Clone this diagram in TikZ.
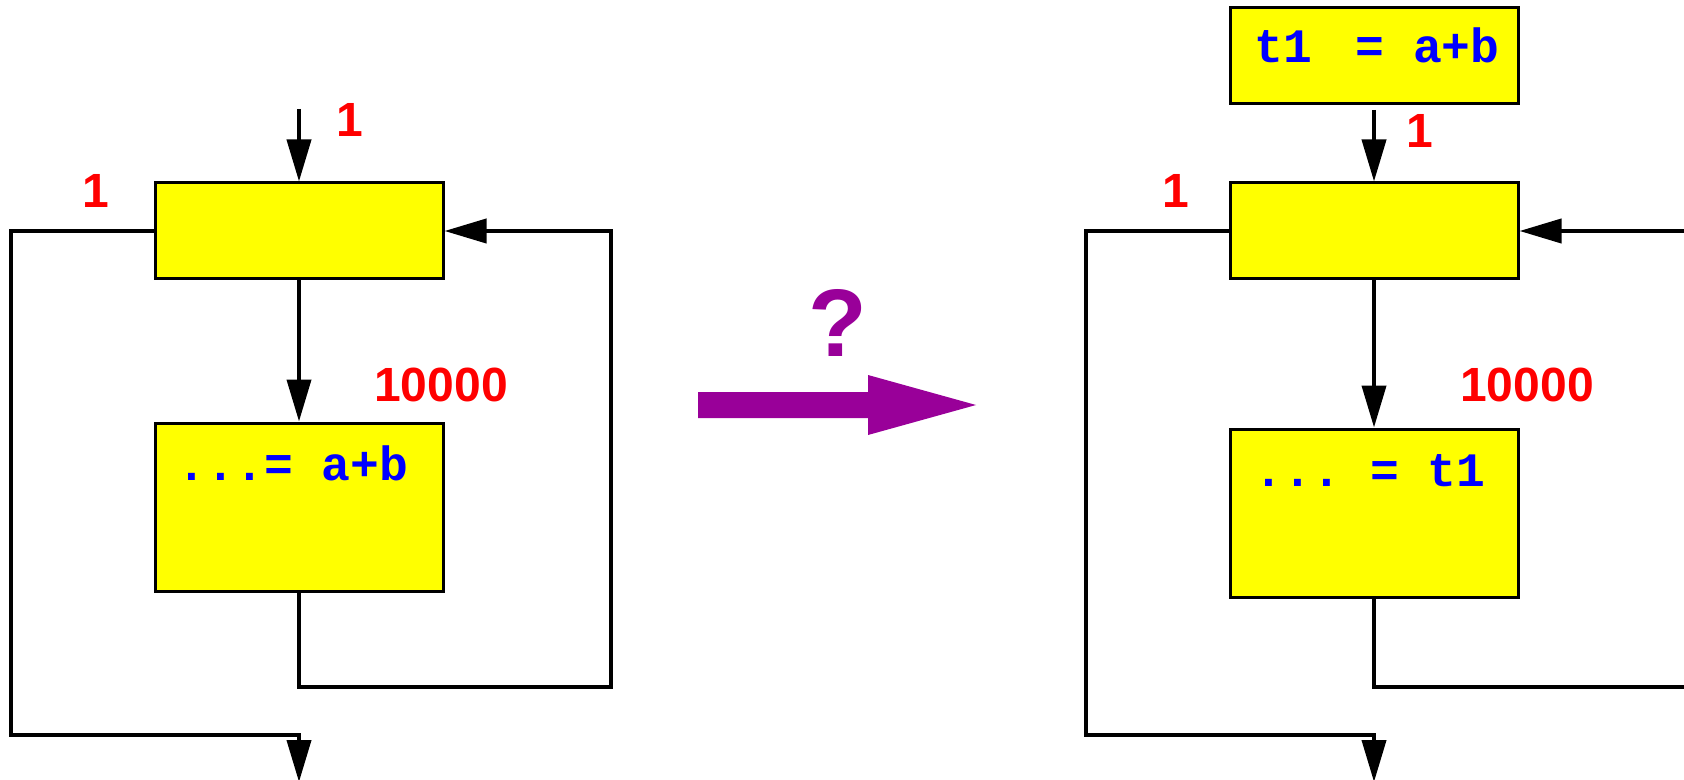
\documentclass[tikz,border=0pt]{standalone}
\usepackage{fontspec}
\setmainfont{Liberation Sans}
\setmonofont{Liberation Mono}
\usetikzlibrary{arrows.meta}
\definecolor{boxyellow}{RGB}{255,255,0}
\definecolor{codeblue}{RGB}{0,0,255}
\definecolor{countred}{RGB}{255,0,0}
\definecolor{hoistpurple}{RGB}{153,0,153}

\begin{document}
\frenchspacing
\begin{tikzpicture}[x=0.5pt,y=-0.5pt,
  block/.style={draw=black, line width=1.5pt, fill=boxyellow, inner sep=0pt, minimum width=144pt},
  shortblock/.style={block, minimum height=48pt},
  tallblock/.style={block, minimum height=84pt},
  code/.style={inner sep=0pt, anchor=base, text=codeblue,
    font=\ttfamily\bfseries\fontsize{24}{28}\selectfont},
  count/.style={inner sep=0pt, anchor=base, text=countred,
    font=\bfseries\fontsize{24}{28}\selectfont},
  flow/.style={line width=2pt, line join=miter},
  tip/.style={-{Triangle[width=12pt,length=21pt]}},
]
\useasboundingbox (0,0) rectangle (1684,780);
\clip (0,0) rectangle (1684,780);

% ---------- loop before the transformation ----------
\node[shortblock] (lhead) at (299,231) {};
\node[tallblock]  (lbody) at (299,507) {};
\node[code] (lbodytext) at (293,480) {...= a+b};

\coordinate (lin)    at (299,109);
\coordinate (lloop)  at (611,687);
\coordinate (lskip)  at (11,735);
\coordinate (lexit)  at (299,782);

\draw[flow,tip] (lin) -- (lhead.north);
\draw[flow,tip] (lhead.south) -- (lbody.north);
\draw[flow,tip] (lbody.south) |- (lloop) |- (lhead.east);
\draw[flow,tip] (lhead.west) -| (lskip) -| (lexit);

\node[count] (lcin)   at (350,137) {1};
\node[count] (lcskip) at (96,208)  {1};
\node[count] (lcbody) at (441,401) {10000};

% ---------- transformation arrow ----------
\node[inner sep=0pt, anchor=base, text=hoistpurple,
      font=\bfseries\fontsize{48}{56}\selectfont] (query) at (838,357) {?};
\fill[hoistpurple] (698,392) -- (868,392) -- (868,375) -- (976,405)
  -- (868,435) -- (868,418) -- (698,418) -- cycle;

% ---------- loop after the transformation ----------
\node[shortblock] (rpre)  at (1374,55.5) {};
\node[code] (rpretext) at (1377,63) {t1\hspace{0.9em}= a+b};
\node[shortblock] (rhead) at (1374,231) {};
\node[tallblock]  (rbody) at (1374,513) {};
\node[code] (rbodytext) at (1370,486) {... = t1};

\coordinate (rloop)  at (1688,687);
\coordinate (rskip)  at (1086,735);
\coordinate (rexit)  at (1374,782);

\draw[flow,tip,shorten <=2.5pt] (rpre.south) -- (rhead.north);
\draw[flow,tip] (rhead.south) -- (rbody.north);
\draw[flow,tip] (rbody.south) |- (rloop) |- (rhead.east);
\draw[flow,tip] (rhead.west) -| (rskip) -| (rexit);

\node[count] (rcin)   at (1420,148) {1};
\node[count] (rcskip) at (1176,208) {1};
\node[count] (rcbody) at (1527,401) {10000};
\end{tikzpicture}
\end{document}
